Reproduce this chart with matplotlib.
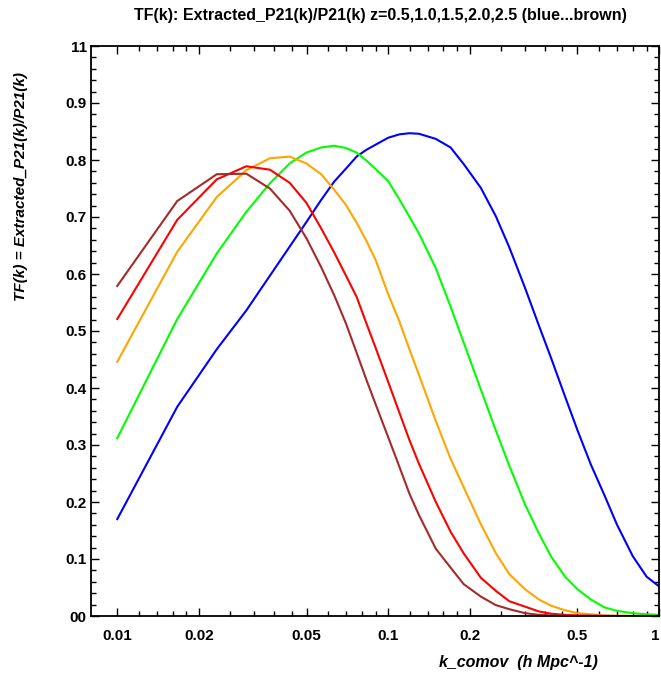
import numpy as np
import matplotlib.pyplot as plt
from matplotlib.ticker import FixedLocator, NullFormatter

plt.rcParams['font.family'] = ['Liberation Sans', 'DejaVu Sans']

k = [0.01, 0.01665, 0.0233, 0.02995, 0.0366, 0.0433, 0.0499, 0.0566, 0.0632,
     0.0699, 0.0765, 0.0832, 0.09, 0.1, 0.11, 0.12, 0.13, 0.15, 0.17, 0.19,
     0.22, 0.25, 0.28, 0.32, 0.36, 0.4, 0.45, 0.5, 0.56, 0.63, 0.7, 0.8, 0.9, 1.0]

# transfer function, one list per redshift
tf_z05 = [0.170, 0.367, 0.468, 0.536, 0.597, 0.648, 0.691, 0.730, 0.762,
          0.785, 0.806, 0.818, 0.827, 0.839, 0.845, 0.847, 0.846, 0.837, 0.822, 0.793,
          0.751, 0.701, 0.647, 0.576, 0.510, 0.452, 0.385, 0.326, 0.266, 0.211, 0.160, 0.105, 0.069, 0.052]
tf_z10 = [0.312, 0.521, 0.636, 0.709, 0.759, 0.794, 0.813, 0.822, 0.825,
          0.821, 0.813, 0.799, 0.784, 0.763, 0.731, 0.700, 0.671, 0.610, 0.543, 0.480,
          0.397, 0.325, 0.264, 0.196, 0.145, 0.104, 0.069, 0.047, 0.029, 0.015, 0.009, 0.005, 0.003, 0.002]
tf_z15 = [0.446, 0.639, 0.735, 0.782, 0.803, 0.806, 0.794, 0.775, 0.748,
          0.721, 0.690, 0.658, 0.624, 0.565, 0.517, 0.467, 0.423, 0.342, 0.276, 0.226,
          0.161, 0.110, 0.0735, 0.047, 0.029, 0.018, 0.010, 0.005, 0.003, 0.001, 0.0005, 0.0002, 0.0001, 0.0]
tf_z20 = [0.521, 0.695, 0.766, 0.789, 0.783, 0.760, 0.725, 0.680, 0.638,
          0.597, 0.560, 0.513, 0.470, 0.411, 0.357, 0.308, 0.267, 0.200, 0.148, 0.110,
          0.067, 0.044, 0.026, 0.0165, 0.008, 0.004, 0.002, 0.001, 0.0005, 0.0002, 0.0, 0.0, 0.0, 0.0]
tf_z25 = [0.579, 0.728, 0.775, 0.776, 0.750, 0.711, 0.663, 0.612, 0.563,
          0.513, 0.462, 0.414, 0.371, 0.314, 0.262, 0.214, 0.177, 0.118, 0.085, 0.056,
          0.034, 0.019, 0.012, 0.005, 0.002, 0.001, 0.0005, 0.0002, 0.0, 0.0, 0.0, 0.0, 0.0, 0.0]

curves = [tf_z05, tf_z10, tf_z15, tf_z20, tf_z25]
colors = ['#0000ff', '#00ff00', '#ffa500', '#ff0000', '#a52a2a']

x_major = [0.01, 0.02, 0.05, 0.1, 0.2, 0.5, 1.0]
x_labels = ['0.01', '0.02', '0.05', '0.1', '0.2', '0.5', '1']
x_minor = [0.012, 0.014, 0.016, 0.018, 0.026, 0.032, 0.038, 0.044,
           0.06, 0.07, 0.08, 0.09, 0.12, 0.14, 0.16, 0.18,
           0.26, 0.32, 0.38, 0.44, 0.6, 0.7, 0.8, 0.9]
y_major = [0.0, 0.1, 0.2, 0.3, 0.4, 0.5, 0.6, 0.7, 0.8, 0.9, 1.0]
y_labels = ['00', '0.1', '0.2', '0.3', '0.4', '0.5', '0.6', '0.7', '0.8', '0.9', '11']

fig = plt.figure(figsize=(6.61, 6.82), dpi=100)
ax = fig.add_axes([91 / 661, 66 / 682, 568 / 661, 570 / 682])

for tf, c in zip(curves, colors):
    ax.plot(k, tf, color=c, lw=1.5)

ax.set_xscale('log')
ax.set_xlim(0.008, 1.0)
ax.set_ylim(0, 1)

ax.xaxis.set_major_locator(FixedLocator(x_major))
ax.set_xticklabels(x_labels)
ax.xaxis.set_minor_locator(FixedLocator(x_minor))
ax.xaxis.set_minor_formatter(NullFormatter())
ax.set_yticks(y_major)
ax.set_yticklabels(y_labels)
ax.yaxis.set_minor_locator(FixedLocator(np.arange(0, 1.001, 0.02)))

ax.tick_params(which='both', direction='in', top=True, right=True, width=1.0)
ax.tick_params(which='major', length=6)
ax.tick_params(which='minor', length=3.5)
ax.tick_params(axis='x', which='major', pad=9)
ax.tick_params(axis='y', which='major', pad=3)
for lab in ax.get_xticklabels() + ax.get_yticklabels():
    lab.set_fontweight('bold')
    lab.set_fontsize(11)
ax.get_xticklabels()[-1].set_horizontalalignment('right')
for s in ax.spines.values():
    s.set_linewidth(1.3)

fig.text(0.575, 0.978, 'TF(k): Extracted_P21(k)/P21(k) z=0.5,1.0,1.5,2.0,2.5 (blue...brown)',
         ha='center', va='center', fontsize=11.5, fontweight='bold')
fig.text(0.785, 0.028, 'k_comov  (h Mpc^-1)', ha='center', va='center',
         fontsize=11.5, fontweight='bold', style='italic')
fig.text(0.0325, 0.7265, 'TF(k) = Extracted_P21(k)/P21(k)', ha='center', va='center',
         rotation=90, fontsize=11, fontweight='bold', style='italic')

fig.savefig('out.png', dpi=100)
